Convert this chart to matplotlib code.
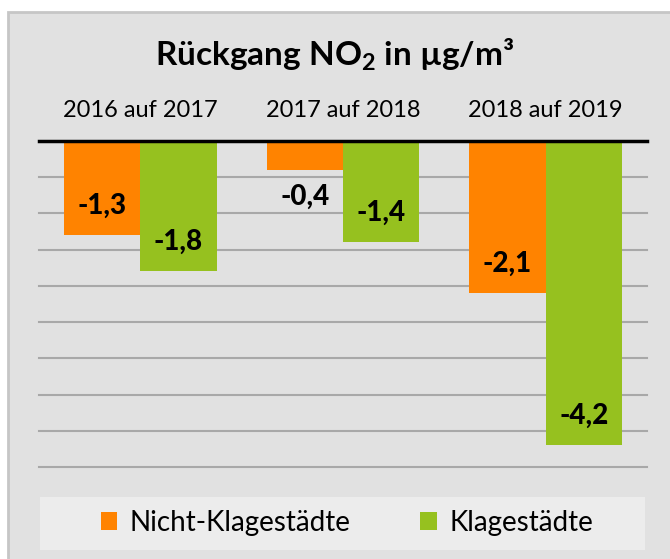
import matplotlib.pyplot as plt
from matplotlib.patches import Rectangle
import numpy as np

# Daten
kategorien = ['2016 auf 2017', '2017 auf 2018', '2018 auf 2019']
nicht_klage = [-1.3, -0.4, -2.1]
klage = [-1.8, -1.4, -4.2]
serien = ['Nicht-Klagestädte', 'Klagestädte']

orange = '#FF8300'
gruen = '#96C11F'

plt.rcParams['font.family'] = ['Lato', 'DejaVu Sans']
plt.rcParams['mathtext.fontset'] = 'custom'
plt.rcParams['mathtext.bf'] = 'Lato:bold'
plt.rcParams['mathtext.default'] = 'bf'

fig = plt.figure(figsize=(6.7, 5.59), dpi=100)
fig.patch.set_facecolor('white')

# grauer Hintergrund
fig.patches.append(Rectangle((8 / 670, -0.05), 1.1, 1 - 12 / 559 + 0.05, transform=fig.transFigure,
                             facecolor='#e1e1e1', edgecolor='#c6c6c6', linewidth=2, zorder=-3))
# Legendenfeld
fig.patches.append(Rectangle((40 / 670, 1 - 550 / 559), 605 / 670, 53 / 559, transform=fig.transFigure,
                             facecolor='#ececec', edgecolor='none', zorder=-2))

ax = fig.add_axes([39 / 670, 1 - 467 / 559, 608 / 670, (467 - 141) / 559])
ax.set_facecolor('none')

x = np.arange(len(kategorien))
b = 0.377
bars1 = ax.bar(x - b / 2, nicht_klage, b, color=orange, label=serien[0], zorder=3)
bars2 = ax.bar(x + b / 2, klage, b, color=gruen, label=serien[1], zorder=3)

ax.set_xlim(-0.5, 2.5)
ax.set_ylim(-4.5, 0)
for y in np.arange(-0.5, -4.51, -0.5):
    ax.axhline(y, color='#a8a8a8', linewidth=1.5, zorder=1, clip_on=False)
ax.axhline(0, color='black', linewidth=2.5, zorder=4, clip_on=False)

for s in ax.spines.values():
    s.set_visible(False)
ax.set_xticks([])
ax.set_yticks([])

# Werte beschriften
for bars in (bars1, bars2):
    for r in bars:
        v = r.get_height()
        cx = r.get_x() + r.get_width() / 2
        txt = ('%.1f' % v).replace('.', ',')
        if abs(v) < 0.8:
            off = -19
        else:
            off = 21
        ax.annotate(txt, (cx, v), xytext=(0, off), textcoords='offset points',
                    ha='center', va='center', fontsize=20, fontweight='black', zorder=5)

# Kategorien oben
for i, k in enumerate(kategorien):
    ax.annotate(k, (i, 0), xytext=(0, 22), textcoords='offset points',
                ha='center', va='center', fontsize=17, annotation_clip=False)

fig.text(0.5, 1 - 55 / 559, 'Rückgang NO$_2$ in µg/m³', ha='center', va='center',
         fontsize=24, fontweight='bold')

fig.legend(handles=[bars1, bars2], loc='center', bbox_to_anchor=(347 / 670, 1 - 523 / 559),
           ncol=2, frameon=False, fontsize=20, handlelength=0.6, handleheight=0.6,
           handletextpad=0.45, columnspacing=2.5)

plt.savefig('out.png', dpi=100)
